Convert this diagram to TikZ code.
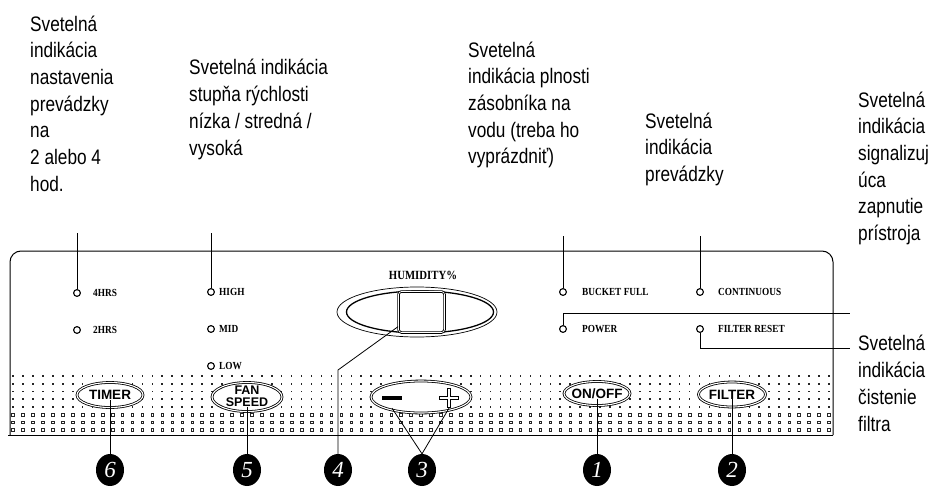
\documentclass[tikz,border=0pt]{standalone}
\usepackage{fontspec}
\setmainfont{Liberation Sans}
\newfontfamily\narrowf[FakeStretch=0.82]{Liberation Sans}
\newfontfamily\panelf[FakeStretch=0.86]{Liberation Serif}
\newfontfamily\numf{Liberation Serif}
\usetikzlibrary{shapes.geometric,calc}
\begin{document}
\begin{tikzpicture}[x=1pt,y=-1pt,
  ann/.style={anchor=base west, align=left, inner sep=0pt, font=\narrowf\fontsize{21}{26.7}\selectfont},
  plabel/.style={anchor=west, inner sep=0pt, font=\panelf\bfseries\fontsize{10.8}{10.8}\selectfont},
  led/.style={circle, draw, line width=1.1pt, minimum size=6.8pt, inner sep=0pt, fill=white},
  leader/.style={line width=0.8pt},
  badge/.style={ellipse, fill=black, minimum width=28pt, minimum height=32pt, inner sep=0pt, text=white, font=\numf\itshape\fontsize{23}{23}\selectfont},
  btn/.style={ellipse, draw, fill=white, line width=0.8pt, double=white, double distance=1.1pt, inner sep=0pt},
  btntext/.style={inner sep=0pt, align=center, font=\bfseries\fontsize{13.5}{12}\selectfont}
]
\useasboundingbox (0,0) rectangle (939,487);

% ---- annotation texts (anchored at the baseline of their last line) ----
\node[ann] (t1) at (30,191.2) {Svetelná\\indikácia\\nastavenia\\prevádzky\\na\\2 alebo 4\\hod.};
\node[ann] (t2) at (189,155) {Svetelná indikácia\\stupňa rýchlosti\\nízka / stredná /\\vysoká};
\node[ann] (t3) at (468,163.8) {Svetelná\\indikácia plnosti\\zásobníka na\\vodu (treba ho\\vyprázdniť)};
\node[ann] (t4) at (645,181.4) {Svetelná\\indikácia\\prevádzky};
\node[ann] (t5) at (858,240.5) {Svetelná\\indikácia\\signalizuj\\úca\\zapnutie\\prístroja};
\node[ann] (t6) at (858,431) {Svetelná\\indikácia\\čistenie\\filtra};

% ---- dotted grille ----
\foreach \r in {0,...,4} {
  \foreach \c in {0,...,82} {
    \fill[black!85] ({13+\c*9.95-0.8},{376+\r*7.7-0.8}) rectangle ++(1.6,1.6);
  }
}
\foreach \r in {5,6,7} {
  \foreach \c in {0,...,82} {
    \draw[black!85, line width=0.6pt] ({13+\c*9.95-1.3},{376+\r*7.7-1.3}) rectangle ++(2.6,2.6);
  }
}

% ---- panel outline ----
\draw[line width=1pt, rounded corners=11pt] (10,435) -- (10,251) -- (833,251) -- (833,435);
\draw[line width=1pt] (8,435) -- (833,435);

% ---- LEDs and labels ----
\node[led] (led4) at (77,293) {};
\node[plabel] (l4) at (93,293) {4HRS};
\node[led] (led2) at (77,330) {};
\node[plabel] (l2) at (93,330) {2HRS};
\node[led] (ledH) at (211,292) {};
\node[plabel] (lH) at (219,292) {HIGH};
\node[led] (ledM) at (211,329) {};
\node[plabel] (lM) at (219,329) {MID};
\node[led] (ledL) at (211,366) {};
\node[plabel] (lL) at (219,366) {LOW};
\node[led] (ledB) at (563,292) {};
\node[plabel] (lB) at (582,292) {BUCKET FULL};
\node[led] (ledP) at (563,329) {};
\node[plabel] (lP) at (582,329) {POWER};
\node[led] (ledC) at (700,292) {};
\node[plabel] (lC) at (718,292) {CONTINUOUS};
\node[led] (ledF) at (700,329) {};
\node[plabel] (lF) at (718,329) {FILTER RESET};

% ---- humidity display ----
\node[plabel, anchor=center, font=\panelf\bfseries\fontsize{12.5}{12.5}\selectfont] (lhum) at (423,275) {HUMIDITY\%};
\node[ellipse, draw, line width=0.7pt, minimum width=160pt, minimum height=50pt, inner sep=0pt] (dout) at (417,312) {};
\node[ellipse, draw, line width=1.3pt, minimum width=147pt, minimum height=42pt, inner sep=0pt] (din) at (420,312) {};
\node[rectangle, rounded corners=3pt, draw, fill=white, line width=0.9pt, double=white, double distance=0.7pt, minimum width=46pt, minimum height=41pt, inner sep=0pt] (disp) at (421.5,312) {};

% ---- buttons ----
\node[btn, minimum width=66pt, minimum height=25pt] (timer) at (110,395) {};
\node[btntext] (ttimer) at (timer) {TIMER};
\node[btn, minimum width=70pt, minimum height=29pt] (fan) at (247,397) {};
\node[btntext, font=\bfseries\fontsize{12.5}{12}\selectfont] (tfan) at (247,396) {FAN\\SPEED};
\node[btn, minimum width=100pt, minimum height=32pt] (pm) at (421,397) {};
\node[minimum width=20pt, minimum height=20pt, inner sep=0pt] (minus) at (392,398) {};
\fill ($(minus.center)+(-10,-2.2)$) rectangle ($(minus.center)+(10,2.2)$);
\node[minimum width=19pt, minimum height=20pt, inner sep=0pt] (plus) at (449,398) {};
\draw[line width=4pt] (plus.west) -- (plus.east) (plus.north) -- (plus.south);
\draw[white, line width=1.6pt] ($(plus.west)+(0.8,0)$) -- ($(plus.east)+(-0.8,0)$) ($(plus.north)+(0,0.8)$) -- ($(plus.south)+(0,-0.8)$);
\node[btn, minimum width=66pt, minimum height=24pt] (onoff) at (597,393.5) {};
\node[btntext] (tonoff) at (onoff) {ON/OFF};
\node[btn, minimum width=67pt, minimum height=25pt] (filter) at (732,394.5) {};
\node[btntext] (tfilter) at (filter) {FILTER};

% ---- badges ----
\node[badge] (b6) at (110,470) {6};
\node[badge] (b5) at (247,470) {5};
\node[badge] (b4) at (338,470) {4};
\node[badge] (b3) at (422,470) {3};
\node[badge] (b1) at (597,470) {1};
\node[badge] (b2) at (732,470) {2};

% ---- leader lines ----
\coordinate (c1) at (77,233);
\coordinate (c2) at (211,233);
\coordinate (c3) at (563,236);
\coordinate (c4) at (700,236);
\coordinate (c5) at (850,313);
\coordinate (c6) at (850,348);
\coordinate (bend4) at (338,370);
\draw[leader] (c1) -- (led4.north);
\draw[leader] (c2) -- (ledH.north);
\draw[leader] (c3) -- (ledB.north);
\draw[leader] (c4) -- (ledC.north);
\draw[leader] (ledP.north) |- (c5);
\draw[leader] (ledF.south) |- (c6);
\draw[leader] (disp.212) -- (bend4) -- (b4.north);
\draw[leader] (ttimer.south) -- (b6.north);
\draw[leader] (tfan.south) -- (b5.north);
\draw[leader] (b3.north) -- (minus.south);
\draw[leader] (b3.north) -- (plus.south);
\draw[leader] (tonoff.south) -- (b1.north);
\draw[leader] (tfilter.south) -- (b2.north);
\end{tikzpicture}
\end{document}
